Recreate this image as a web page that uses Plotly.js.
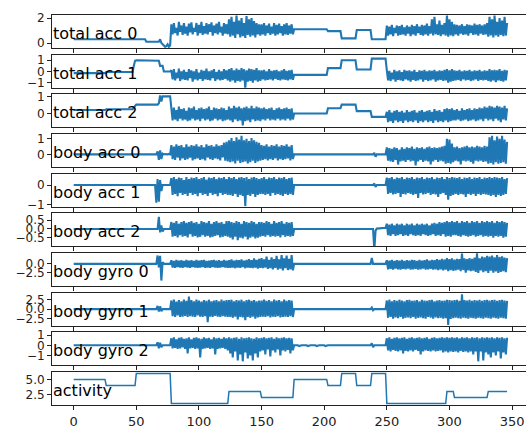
<!DOCTYPE html>
<html>
<head>
<meta charset="utf-8">
<script src="https://cdn.plot.ly/plotly-3.0.1.min.js"></script>
<style>
html,body{margin:0;padding:0;background:#fff;overflow:hidden;}
#chart{width:529px;height:430px;}
</style>
</head>
<body>
<div id="chart"></div>
<script>
// ---------------- DATA ----------------
const panelNames = ['total acc 0','total acc 1','total acc 2','body acc 0','body acc 1','body acc 2','body gyro 0','body gyro 1','body gyro 2','activity'];
const xTicks = [0,50,100,150,200,250,300,350];

const totalAcc0 = [
0.3,0.3,0.3,0.3,0.3,0.3,0.3,0.3,0.3,0.3, 0.3,0.3,0.3,0.3,0.3,0.3,0.3,0.3,0.3,0.3, 0.3,0.3,0.3,0.3,0.3,0.3,
0.3,0.3,0.3,0.3,0.3,0.3,0.3,0.3,0.3,0.3, 0.3,0.3,0.3,0.3,0.3,0.3,0.3,0.3,0.3,0.3, 0.3,0.3,0.3,0.3,
0.3,0.3,0.3,0.3,0.3,0.3,0.3,0.3, 0.1,0.1,0.1,0.1,0.1,0.1,0.1,0.1,0.1,0.1,0.1, 0.3,0.0,-0.1,-0.2,-0.3,-0.25,-0.1,-0.3,-0.2,
1.5,0.7,1.6,0.8,1.2,0.6,1.7,0.9,1.4,0.65, 1.6,0.75,1.3,0.6,1.55,0.85,1.65,0.7,1.2,0.9, 1.6,0.6,1.45,0.8,1.7,0.65,1.35,0.75,1.6,0.7, 1.5,0.9,1.65,0.6,1.4,0.8,1.55,0.7,1.7,0.85, 1.3,0.6,1.6,0.75,1.5,0.7,
1.9,0.5,2.1,0.6,1.7,0.4,2.2,0.7,1.8,0.45, 2.0,0.55,1.6,0.4,2.15,0.65,1.9,0.5,2.0,0.6, 1.75,0.45,1.6,0.7,1.5,0.6,
1.5,0.7,1.6,0.6,1.4,0.8,1.55,0.65,1.3,0.75, 1.6,0.6,1.45,0.7,1.55,0.8,1.35,0.6,1.5,0.7, 1.6,0.65,1.4,0.75,1.5,0.7,
1.1,1.1,1.1,1.1,1.1,1.1,1.1,1.1,1.1,1.1, 1.1,1.1,1.1,1.1,1.1,1.1,1.1,1.1,1.1,1.1, 1.1,1.1,1.1,1.1,1.1,1.1,1.1,
0.95,0.95,0.95,0.95,0.95,0.95,0.95,0.95,0.95,0.95,0.95,
0.37,0.37,0.37,0.37,0.37,0.37,0.37,0.37,0.37,0.37,0.37,0.37,
1.04,1.04,1.04,1.04,1.04,1.04,1.04,1.04,1.04,1.04,1.04,1.04,
0.3,0.3,0.3,0.3,0.3,0.3,0.3,0.3,0.3,0.3,0.3,0.3,
1.4,0.6,1.3,0.7,1.45,0.55,1.2,0.8,1.4,0.6, 1.35,0.65,1.45,0.7,1.25,0.6,1.4,0.75,1.3,0.55, 1.45,0.7,1.35,0.6,1.5,0.8,1.3,0.65,1.45,0.6, 1.4,0.7,1.55,0.6,1.35,0.75,1.9,0.6,2.1,0.7, 1.5,0.65,1.8,0.55,1.45,0.7,1.6,0.6,
2.2,0.5,1.9,0.6,1.7,0.55,
1.5,0.7,1.45,0.6,1.4,0.75,1.5,0.65,1.35,0.7, 1.5,0.6,1.45,0.8,1.4,0.65,1.55,0.7,1.45,0.6, 1.5,0.75,1.4,0.65,1.5,0.7,1.6,
0.5,2.1,0.6,1.9,0.45,2.2,0.6,1.7,0.5,2.0, 0.65,1.8,0.55,2.1,0.6,1.6
];

const totalAcc1 = [
-0.15,-0.15,-0.15,-0.15,-0.15,-0.15,-0.15,-0.15,-0.15,-0.15, -0.15,-0.15,-0.15,-0.15,-0.15,-0.15,-0.15,-0.15,-0.15,-0.15, -0.15,-0.15,-0.15,-0.15,-0.15,-0.15,
-0.05,-0.05,-0.05,-0.05,-0.05,-0.05,-0.05,-0.05,-0.05,-0.05, -0.05,-0.05,-0.05,-0.05,-0.05,-0.05,-0.05,-0.05,-0.05,-0.05, -0.05,-0.05,0.5,0.95,
1.0,1.0,1.0,1.0,1.0,1.0,1.0,1.0,1.0,1.0, 1.0,1.0,1.0,1.0,1.0,1.0,1.0,1.0, 0.95,0.5,0.5,0.5, 0.0,0.0,0.0,0.0,0.0,0.0,
0.1,-0.7,0.2,-0.8,-0.1,-0.6,0.25,-0.85,0.0,-0.7, 0.15,-0.75,-0.05,-0.8,0.2,-0.6,0.1,-0.9,0.0,-0.7, 0.2,-0.8,-0.1,-0.65,0.15,-0.85,0.05,-0.7,0.25,-0.75, 0.0,-0.8,0.1,-0.6,0.2,-0.85,-0.05,-0.7,0.15,-0.8, 0.0,-0.75,0.2,-0.65,0.1,-0.8,
0.2,-0.9,0.3,-0.8,0.1,-1.0,0.25,-0.85,0.15,-0.9, 0.3,-0.8,0.2,-1.5,0.1,-0.9,0.25,-0.85,0.2,-1.0, 0.15,-0.8,0.3,-0.9,0.1,-0.85,
0.1,-0.7,0.15,-0.8,0.0,-0.75,0.2,-0.7,0.05,-0.8, 0.1,-0.65,0.15,-0.75,0.0,-0.8,0.1,-0.7,0.2,-0.75, 0.05,-0.8,0.1,-0.7,0.15,-0.75,
-0.3,-0.3,-0.3,-0.3,-0.3,-0.3,-0.3,-0.3,-0.3,-0.3, -0.3,-0.3,-0.3,-0.3,-0.3,-0.3,-0.3,-0.3,-0.3,-0.3, -0.3,-0.3,-0.3,-0.3,-0.3,-0.3,-0.3,
0.3,0.3,0.3,0.3,0.3,0.3,0.3,0.3,0.3,0.3,0.3,
1.0,1.0,1.0,1.0,1.0,1.0,1.0,1.0,1.0,1.0,1.0,1.0,
0.17,0.17,0.17,0.17,0.17,0.17,0.17,0.17,0.17,0.17,0.17,0.17,
1.15,1.15,1.15,1.15,1.15,1.15,1.15,1.15,1.15,1.15,1.15,1.15,
0.1,-0.8,0.05,-0.85,-0.1,-0.7,0.15,-0.9,0.0,-0.75, 0.1,-0.8,-0.05,-0.85,0.15,-0.7,0.05,-0.8,0.1,-0.9, 0.0,-0.75,0.15,-0.85,-0.05,-0.8,0.1,-0.7,0.05,-0.9, 0.15,-0.75,0.0,-0.85,0.1,-0.8,0.05,-0.7,0.15,-0.9, 0.0,-0.8,0.1,-0.75,0.05,-0.85,0.15,-0.8,
0.2,-1.0,0.1,-0.9,0.2,-0.85,
0.1,-0.8,0.05,-0.75,0.15,-0.85,0.0,-0.7,0.1,-0.8, 0.05,-0.75,0.15,-0.85,0.0,-0.8,0.1,-0.7,0.05,-0.85, 0.15,-0.75,0.0,-0.8,0.1,-0.75,0.05,
-0.85,0.2,-0.9,0.1,-0.8,0.15,-0.95,0.1,-0.8,0.2, -0.85,0.05,-0.9,0.15,-0.8,0.1
];

const totalAcc2 = [
0.2,0.2,0.2,0.2,0.2,0.2,0.2,0.2,0.2,0.2, 0.2,0.2,0.2,0.2,0.2,0.2,0.2,0.2,0.2,0.2, 0.2,0.2,0.2,0.2,0.2,0.2,
0.25,0.25,0.25,0.25,0.25,0.25,0.25,0.25,0.25,0.25, 0.25,0.25,0.25,0.25,0.25,0.25,0.25,0.25,0.25,0.25, 0.25,0.25,0.35,0.45,
0.52,0.52,0.52,0.52,0.52,0.52,0.52,0.52,0.52,0.52, 0.52,0.52,0.52,0.52,0.52,0.52,0.52,0.52, 0.6,1.05,0.7, 1.0,1.0,1.0,1.0,1.0,1.0,1.0,
0.3,-0.4,0.35,-0.35,0.2,-0.45,0.4,-0.3,0.25,-0.4, 0.3,-0.35,0.15,-0.45,0.35,-0.4,0.3,-0.3,0.4,-0.4, 0.2,-0.35,0.3,-0.45,0.35,-0.3,0.25,-0.4,0.3,-0.35, 0.4,-0.45,0.2,-0.4,0.35,-0.3,0.3,-0.4,0.25,-0.35, 0.35,-0.45,0.3,-0.4,0.2,-0.35,
0.4,-0.4,0.3,-0.5,0.45,-0.35,0.35,-0.45,0.4,-0.4, 0.3,-0.7,0.35,-0.45,0.4,-0.4,0.3,-0.5,0.45,-0.35, 0.3,-0.45,0.4,-0.4,0.35,-0.45,
0.3,-0.35,0.35,-0.4,0.25,-0.3,0.3,-0.4,0.35,-0.35, 0.2,-0.4,0.3,-0.3,0.35,-0.4,0.25,-0.35,0.3,-0.4, 0.35,-0.3,0.25,-0.4,0.3,-0.35,
0,0,0,0,0,0,0,0,0,0, 0,0,0,0,0,0,0,0,0,0, 0,0,0,0,0,0,0,
0.31,0.31,0.31,0.31,0.31,0.31,0.31,0.31,0.31,0.31,0.31,
0.52,0.52,0.52,0.52,0.52,0.52,0.52,0.52,0.52,0.52,0.52,0.52,
0.14,0.14,0.14,0.14,0.14,0.14,0.14,0.14,0.14,0.14,0.14,0.14,
-0.2,-0.2,-0.2,-0.2,-0.2,-0.2,-0.2,-0.2,-0.2,-0.2,-0.2,-0.2,
0.1,-0.5,0.2,-0.45,0.05,-0.55,0.15,-0.4,0.2,-0.5, 0.1,-0.45,0.15,-0.55,0.05,-0.4,0.2,-0.5,0.1,-0.45, 0.15,-0.5,0.2,-0.4,0.05,-0.55,0.15,-0.45,0.2,-0.5, 0.1,-0.4,0.15,-0.5,0.2,-0.45,0.1,-0.55,0.25,-0.4, 0.15,-0.5,0.2,-0.45,0.1,-0.5,0.25,-0.4,
0.3,-0.5,0.25,-0.45,0.3,-0.4,
0.2,-0.4,0.25,-0.35,0.15,-0.45,0.3,-0.4,0.2,-0.35, 0.25,-0.45,0.3,-0.4,0.2,-0.35,0.3,-0.45,0.25,-0.4, 0.35,-0.35,0.3,-0.45,0.4,-0.3,0.35,
-0.4,0.45,-0.35,0.4,-0.45,0.35,-0.3,0.45,-0.4,0.4, -0.5,0.35,-0.35,0.45,-0.4,0.3
];

const bodyAcc0 = [
0,0,0,0,0,0,0,0,0,0, 0,0,0,0,0,0,0,0,0,0, 0,0,0,0,0,0,
0,0,0,0,0,0,0,0,0,0, 0,0,0,0,0,0,0,0,0,0, 0,0,0,0,
0,0,0,0,0,0,0,0,0,0, 0,0,0,0,0,0,0, 0.2,-0.35,0.25,-0.3, 0.05,0,0.02,0,0,0.03,0,
0.6,-0.3,0.5,-0.35,0.65,-0.2,0.55,-0.38,0.6,-0.25, 0.45,-0.35,0.65,-0.3,0.5,-0.2,0.6,-0.38,0.55,-0.3, 0.65,-0.25,0.5,-0.35,0.6,-0.3,0.45,-0.38,0.65,-0.2, 0.55,-0.3,0.6,-0.35,0.5,-0.25,0.65,-0.3,0.55,-0.38, 0.6,-0.2,0.75,-0.4,0.8,-0.45,
0.9,-0.5,1.05,-0.45,0.85,-0.58,1.1,-0.4,0.95,-0.55, 1.2,-0.5,0.9,-0.45,1.0,-0.58,0.85,-0.5,1.05,-0.4, 0.9,-0.55,0.8,-0.45,0.75,-0.4,
0.6,-0.35,0.55,-0.3,0.65,-0.38,0.5,-0.3,0.6,-0.35, 0.55,-0.25,0.65,-0.38,0.5,-0.3,0.6,-0.35,0.55,-0.3, 0.65,-0.25,0.5,-0.38,0.6,-0.3,
0,0,0,0,0,0,0,0,0,0, 0,0,0,0,0,0,0,0,0,0, 0,0,0,0,0,0,0,
0,0,0,0,0,0,0,0,0,0,0,
0,0,0,0,0,0,0,0,0,0,0,0,
0,0,0,0,0,0,0,0,0,0,0,0,
0,0,0.1,-0.15,0,0,0,0,0,0,0,0,
0.45,-0.4,0.4,-0.45,0.35,-0.48,0.45,-0.35,0.4,-0.65, 0.3,-0.45,0.45,-0.4,0.35,-0.48,0.45,-0.35,0.4,-0.45, 0.5,-0.4,0.35,-0.7,0.45,-0.45,0.4,-0.35,0.45,-0.48, 0.35,-0.4,0.45,-0.45,0.5,-0.65,0.4,-0.45,0.45,-0.35, 0.4,-0.48,0.45,-0.4,0.5,-0.45,0.55,-0.6,
1.0,-0.55,0.95,-0.6,0.7,-0.5,
0.45,-0.4,0.5,-0.45,0.4,-0.65,0.45,-0.4,0.5,-0.45, 0.55,-0.4,0.45,-0.48,0.5,-0.6,0.45,-0.4,0.55,-0.45, 0.5,-0.4,0.45,-0.48,0.55,-0.45,0.5,
-0.6,1.1,-0.55,1.2,-0.65,0.9,-0.5,1.15,-0.6,1.0, -0.55,1.2,-0.5,0.95,-0.6,0.8
];

const bodyAcc1 = [
0,0,0,0,0,0,0,0,0,0, 0,0,0,0,0,0,0,0,0,0, 0,0,0,0,0,0,
0,0,0,0,0,0,0,0,0,0, 0,0,0,0,0,0,0,0,0,0, 0,0,0,0,
0,0,0,0,0,0,0,0,0,0, 0,0,0,0,0,0, -0.9,0.3,-0.85,0.25,-0.3, 0,0,0,0,0,0,0,
0.35,-0.5,0.4,-0.45,0.3,-0.56,0.38,-0.4,0.35,-0.5, 0.25,-0.45,0.4,-0.55,0.3,-0.4,0.38,-0.5,0.35,-0.45, 0.4,-0.56,0.3,-0.4,0.35,-0.5,0.4,-0.45,0.28,-0.55, 0.38,-0.4,0.35,-0.5,0.4,-0.45,0.3,-0.56,0.38,-0.4, 0.35,-0.5,0.4,-0.45,0.3,-0.5,
0.4,-0.5,0.35,-0.55,0.4,-0.45,0.3,-0.6,0.38,-0.5, 0.4,-0.55,0.35,-1.08,0.4,-0.5,0.3,-0.55,0.38,-0.45, 0.4,-0.6,0.35,-0.5,0.3,-0.45,
0.35,-0.45,0.4,-0.5,0.3,-0.45,0.38,-0.55,0.35,-0.4, 0.4,-0.5,0.3,-0.45,0.38,-0.5,0.35,-0.55,0.4,-0.45, 0.3,-0.5,0.35,-0.45,0.38,-0.5,
0,0,0,0,0,0,0,0,0,0, 0,0,0,0,0,0,0,0,0,0, 0,0,0,0,0,0,0,
0,0,0,0,0,0,0,0,0,0,0,
0,0,0,0,0,0,0,0,0,0,0,0,
0,0,0,0,0,0,0,0,0,0,0,0,
0,0,0.08,-0.1,0,0,0,0,0,0,0,0,
0.38,-0.45,0.35,-0.4,0.4,-0.47,0.3,-0.45,0.38,-0.4, 0.35,-0.6,0.4,-0.45,0.3,-0.47,0.38,-0.4,0.35,-0.45, 0.4,-0.5,0.3,-0.45,0.38,-0.65,0.35,-0.4,0.4,-0.47, 0.3,-0.45,0.38,-0.4,0.35,-0.5,0.4,-0.45,0.3,-0.47, 0.38,-0.6,0.35,-0.45,0.4,-0.4,0.3,-0.5,
0.4,-0.74,0.35,-0.55,0.4,-0.5,
0.38,-0.45,0.35,-0.5,0.4,-0.45,0.3,-0.47,0.38,-0.6, 0.35,-0.45,0.4,-0.5,0.3,-0.45,0.38,-0.55,0.35,-0.45, 0.4,-0.5,0.3,-0.45,0.38,-0.47,0.35,
-0.5,0.4,-0.55,0.35,-0.5,0.4,-0.6,0.38,-0.5,0.35, -0.55,0.4,-0.5,0.3,-0.45,0.35
];

const bodyAcc2 = [
0,0,0,0,0,0,0,0,0,0, 0,0,0,0,0,0,0,0,0,0, 0,0,0,0,0,0,
0,0,0,0,0,0,0,0,0,0, 0,0,0,0,0,0,0,0,0,0, 0,0,0,0,
0,0,0,0,0,0,0,0,0,0, 0,0,0,0,0,0,0,0, 0.7,-0.2,0.2,-0.15, 0,0,0,0,0,0,
0.4,-0.45,0.35,-0.4,0.45,-0.48,0.3,-0.35,0.4,-0.45, 0.45,-0.4,0.35,-0.48,0.4,-0.3,0.45,-0.45,0.35,-0.4, 0.4,-0.48,0.3,-0.45,0.45,-0.35,0.4,-0.45,0.35,-0.4, 0.45,-0.48,0.3,-0.45,0.4,-0.4,0.45,-0.35,0.35,-0.48, 0.4,-0.45,0.3,-0.4,0.45,-0.45,
0.45,-0.5,0.4,-0.6,0.35,-0.45,0.45,-0.65,0.4,-0.5, 0.3,-0.55,0.45,-0.45,0.4,-0.6,0.35,-0.5,0.45,-0.45, 0.4,-0.55,0.3,-0.5,0.4,-0.45,
0.4,-0.4,0.35,-0.45,0.45,-0.35,0.4,-0.45,0.3,-0.4, 0.45,-0.45,0.35,-0.4,0.4,-0.48,0.45,-0.35,0.3,-0.45, 0.4,-0.4,0.35,-0.45,0.4,-0.4,
0,0,0,0,0,0,0,0,0,0, 0,0,0,0,0,0,0,0,0,0, 0,0,0,0,0,0,0,
0,0,0,0,0,0,0,0,0,0,0,
0,0,0,0,0,0,0,0,0,0,0,0,
0,0,0,0,0,0,0,0,0,0,0,0,
0,0,-1.2,-0.1,0.02,0.03,0.04,0.05,0.05,0.06,0.06,0.07,
0.3,-0.35,0.25,-0.4,0.3,-0.3,0.2,-0.4,0.3,-0.35, 0.25,-0.3,0.3,-0.4,0.2,-0.35,0.3,-0.4,0.25,-0.3, 0.3,-0.35,0.2,-0.4,0.3,-0.35,0.25,-0.4,0.3,-0.3, 0.25,-0.35,0.3,-0.4,0.2,-0.35,0.3,-0.3,0.35,-0.4, 0.3,-0.35,0.4,-0.4,0.35,-0.3,0.4,-0.45,
0.45,-0.4,0.4,-0.45,0.45,-0.35,
0.4,-0.35,0.45,-0.4,0.35,-0.45,0.45,-0.35,0.4,-0.4, 0.45,-0.45,0.35,-0.4,0.45,-0.35,0.4,-0.45,0.45,-0.4, 0.35,-0.35,0.45,-0.45,0.4,-0.4,0.45,
-0.45,0.4,-0.4,0.45,-0.5,0.35,-0.4,0.45,-0.45,0.4, -0.4,0.45,-0.5,0.4,-0.45,0.35
];

const bodyGyro0 = [
0,0,0,0,0,0,0,0,0,0, 0,0,0,0,0,0,0,0,0,0, 0,0,0,0,0,0,
0,0,0,0,0,0,0,0,0,0, 0,0,0,0,0,0,0,0,0,0, 0,0,0,0,
0,0,0,0,0,0,0,0,0,0, 0,0,0,0,0,0,0, 2.3,-1.0,2.2,-4.6,0.5, 0,0,0,0,0,0,
1.0,-1.0,0.8,-1.1,1.1,-0.9,0.9,-1.0,1.0,-1.1, 0.8,-0.9,1.1,-1.0,0.9,-1.1,1.0,-0.9,0.8,-1.0, 1.1,-1.1,0.9,-1.0,1.0,-0.9,1.1,-1.1,0.8,-1.0, 0.9,-1.1,1.0,-0.9,1.1,-1.0,0.9,-1.1,1.0,-1.0, 0.8,-0.9,1.1,-1.0,0.9,-1.1,
1.0,-1.1,1.2,-1.0,0.9,-1.2,1.1,-1.0,1.0,-1.1, 1.2,-0.9,0.9,-1.2,1.1,-1.0,1.3,-1.1,1.0,-1.2, 1.5,-1.0,1.1,-1.3,1.4,-1.1,
1.6,-1.2,1.2,-1.0,2.0,-1.4,1.1,-1.2,1.8,-1.5, 1.3,-1.1,2.2,-1.6,1.2,-1.3,2.4,-1.8,1.5,-1.2, 2.3,-1.7,1.4,-1.5,2.4,-1.8,
0,0,0,0,0,0,0,0,0,0, 0,0,0,0,0,0,0,0,0,0, 0,0,0,0,0,0,0,
0,0,0,0,0,0,0,0,0,0,0,
0,0,0,0,0,0,0,0,0,0,0,0,
0,0,0,0,0,0,0,0,0,0,0,0,
1.6,0,0,0,0,0,0,0,0,0,0,0,
1.0,-1.5,0.9,-1.4,1.1,-1.6,0.8,-1.3,1.0,-1.5, 0.9,-1.6,1.1,-1.4,0.8,-1.5,1.0,-1.3,0.9,-1.6, 1.1,-1.5,1.0,-1.4,0.8,-1.6,1.1,-1.5,0.9,-1.3, 1.0,-1.6,1.2,-1.5,0.9,-1.4,1.1,-1.6,1.0,-1.5, 1.3,-1.7,1.1,-1.5,1.4,-1.8,1.2,-1.6,
1.6,-2.0,1.3,-1.7,1.5,-1.9,
1.2,-1.8,1.4,-1.6,1.3,-2.0,2.8,-1.7,1.5,-2.4, 1.3,-1.8,1.6,-2.0,1.4,-1.9,1.7,-2.2,2.9,-2.5, 1.5,-1.8,2.0,-2.3,1.8,-2.0,2.2,
-2.5,2.0,-1.9,2.3,-2.4,1.8,-2.1,2.4,-2.5,1.9, -2.2,2.1,-2.0,1.7,-2.3,1.6
];

const bodyGyro1 = [
0,0,0,0,0,0,0,0,0,0, 0,0,0,0,0,0,0,0,0,0, 0,0,0,0,0,0,
0,0,0,0,0,0,0,0,0,0, 0,0,0,0,0,0,0,0,0,0, 0,0,0,0,
0,0,0,0,0,0,0,0,0,0, 0,0,0,0,0,0,0, 0.8,-0.6,0.7,-0.5, 0,0,0,0,0,0,0,
2.2,-1.8,2.4,-2.0,1.9,-1.6,2.3,-2.0,2.0,-1.9, 2.4,-1.7,2.1,-2.0,3.2,-1.8,2.3,-1.9,2.0,-2.0, 2.4,-1.6,2.2,-1.9,1.9,-2.0,2.3,-1.8,2.1,-3.3, 2.4,-1.9,2.0,-2.0,2.2,-1.7,2.3,-1.9,2.0,-2.0, 2.4,-1.8,2.1,-1.9,2.3,-2.0,
2.3,-2.0,2.4,-2.2,2.0,-1.9,2.3,-2.6,2.2,-2.0, 2.4,-2.1,2.0,-2.8,2.3,-2.0,2.4,-2.2,2.1,-1.9, 2.3,-2.4,2.0,-2.1,2.2,-2.0,
2.2,-1.9,2.4,-2.0,2.1,-1.8,2.3,-2.1,2.0,-1.9, 2.4,-2.0,2.2,-1.8,2.3,-2.1,2.0,-2.0,2.4,-1.9, 2.1,-2.0,2.3,-1.8,2.2,-2.0,
0,0,0,0,0,0,0,0,0,0, 0,0,0,0,0,0,0,0,0,0, 0,0,0,0,0,0,0,
0,0,0,0,0,0,0,0,0,0,0,
0,0,0,0,0,0,0,0,0,0,0,0,
0,0,0,0,0,0,0,0,0,0,0,0,
0.4,-0.3,0,0,0,0,0,0,0,0,0,0,
2.2,-2.2,2.4,-2.0,2.0,-2.4,2.3,-2.1,2.1,-2.3, 2.4,-2.0,2.2,-2.4,2.0,-2.2,2.3,-2.1,2.4,-2.3, 2.1,-2.0,2.2,-2.4,2.3,-2.2,2.0,-2.1,2.4,-2.3, 2.2,-2.4,2.1,-2.0,2.3,-2.2,2.4,-2.4,2.0,-2.1, 2.2,-2.3,2.3,-2.2,2.1,-2.4,2.2,-2.3,
2.4,-4.0,2.3,-2.5,2.2,-2.3,
2.3,-2.2,2.4,-2.3,2.1,-2.4,3.8,-2.2,2.3,-2.3, 2.2,-2.4,2.4,-2.2,2.1,-2.3,2.3,-2.4,2.2,-2.2, 2.4,-2.3,2.1,-2.4,2.3,-2.2,2.4,
-2.3,2.2,-2.4,2.3,-2.2,2.4,-2.3,2.1,-2.4,2.3, -2.2,2.4,-2.3,2.2,-2.4,2.1
];

const bodyGyro2 = [
0,0,0,0,0,0,0,0,0,0, 0,0,0,0,0,0,0,0,0,0, 0,0,0,0,0,0,
0,0,0,0,0,0,0,0,0,0, 0,0,0,0,0,0,0,0,0,0, 0,0,0,0,
0,0,0,0,0,0,0,0,0,0, 0,0,0,0,0,0,0, 0.3,-0.3,0.25,-0.2, 0,0,0,0,0,0,0,
0.7,-0.3,0.8,-0.25,0.6,-0.35,0.75,-0.3,0.8,-0.2, 0.65,-0.35,0.7,-0.8,0.8,-0.3,0.6,-0.25,0.75,-0.35, 0.8,-0.3,0.7,-1.2,0.65,-0.35,0.8,-0.3,0.7,-0.25, 0.75,-0.35,0.6,-0.3,0.8,-0.9,0.7,-0.35,0.75,-0.3, 0.65,-0.25,0.8,-0.35,0.7,-0.5,
0.8,-0.8,0.7,-1.2,0.75,-0.6,0.8,-1.5,0.65,-0.9, 0.8,-1.6,0.7,-0.7,0.75,-1.3,0.8,-1.0,0.7,-1.5, 0.65,-0.8,0.8,-1.2,0.7,-0.6,
0.75,-0.5,0.8,-0.9,0.7,-0.4,0.75,-1.1,0.8,-0.5, 0.65,-0.7,0.8,-0.4,0.7,-1.0,0.75,-0.5,0.8,-0.6, 0.7,-0.45,0.75,-0.8,0.7,-0.5,
0,0,0,0,-0.08,0,0,0,0,0, 0,-0.08,0,0,0,0,0,0,-0.08,0, 0,0,0,0,0,-0.08,0,
0,0,0,0,0,0,0,0,0,0,0,
0,0,0,0,0,0,0,0,0,0,0,0,
0,0,0,0,0,0,0,0,0,0,0,0,
0.2,-0.2,0,0,0,0,0,0,0,0,0,0,
0.7,-0.5,0.8,-0.6,0.65,-0.45,0.75,-0.55,0.8,-0.6, 0.7,-0.5,0.75,-0.8,0.8,-0.55,0.65,-0.6,0.75,-0.5, 0.8,-0.6,0.7,-0.45,0.75,-0.55,0.8,-0.9,0.7,-0.6, 0.75,-0.5,0.8,-0.55,0.65,-0.6,0.75,-0.5,0.8,-0.6, 0.7,-0.55,0.75,-0.5,0.8,-0.7,0.75,-0.6,
0.8,-0.7,0.75,-0.6,0.8,-0.65,
0.75,-0.6,0.8,-0.7,0.7,-0.55,0.8,-0.65,0.75,-0.6, 0.8,-0.7,0.7,-0.6,0.8,-0.9,0.75,-0.6,0.8,-1.6, 0.7,-0.6,0.8,-1.5,0.75,-0.7,0.8,
-0.9,0.75,-1.2,0.8,-0.7,0.7,-1.0,0.8,-0.6,0.75, -1.3,0.8,-0.7,0.7,-0.9,0.75
];

const activity = [
5,5,5,5,5,5,5,5,5,5, 5,5,5,5,5,5,5,5,5,5, 5,5,5,5,5,5,
4,4,4,4,4,4,4,4,4,4, 4,4,4,4,4,4,4,4,4,4, 4,4,4,4,
6,6,6,6,6,6,6,6,6,6, 6,6,6,6,6,6,6,6,6,6, 6,6,6,6,6,6,6,6,
1,1,1,1,1,1,1,1,1,1, 1,1,1,1,1,1,1,1,1,1, 1,1,1,1,1,1,1,1,1,1, 1,1,1,1,1,1,1,1,1,1, 1,1,1,1,1,1,
3,3,3,3,3,3,3,3,3,3, 3,3,3,3,3,3,3,3,3,3, 3,3,3,3,3,3,
2,2,2,2,2,2,2,2,2,2, 2,2,2,2,2,2,2,2,2,2, 2,2,2,2,2,2,
5,5,5,5,5,5,5,5,5,5, 5,5,5,5,5,5,5,5,5,5, 5,5,5,5,5,5,5,
4,4,4,4,4,4,4,4,4,4,4,
6,6,6,6,6,6,6,6,6,6,6,6,
4,4,4,4,4,4,4,4,4,4,4,4,
6,6,6,6,6,6,6,6,6,6,6,6,
1,1,1,1,1,1,1,1,1,1, 1,1,1,1,1,1,1,1,1,1, 1,1,1,1,1,1,1,1,1,1, 1,1,1,1,1,1,1,1,1,1, 1,1,1,1,1,1,1,1,
3,3,3,3,3,3,
2,2,2,2,2,2,2,2,2,2, 2,2,2,2,2,2,2,2,2,2, 2,2,2,2,2,2,2,
3,3,3,3,3,3,3,3,3,3, 3,3,3,3,3,3
];

// y-axis ticks per panel
const yTickVals = [[0,2],[-1,0,1],[0,1],[0,1],[-1,0],[-0.5,0,0.5],[-2.5,0],[-2.5,0,2.5],[-1,0,1],[2.5,5]];
const yTickText = [['0','2'],['\u22121','0','1'],['0','1'],['0','1'],['\u22121','0'],['\u22120.5','0.0','0.5'],['\u22122.5','0.0'],['\u22122.5','0.0','2.5'],['\u22121','0','1'],['2.5','5.0']];

// ---------------- DRAWING ----------------
const series = [totalAcc0,totalAcc1,totalAcc2,bodyAcc0,bodyAcc1,bodyAcc2,bodyGyro0,bodyGyro1,bodyGyro2,activity];
series.forEach((s,i)=>{ if(s.length!==activity.length) throw new Error('length mismatch '+panelNames[i]+' '+s.length); });
const idx = activity.map((_,i)=>i);

const yRanges = [[-0.4,2.24],[-1.45,1.5],[-0.81,1.12],[-0.81,1.31],[-1.1,0.58],[-1.0,0.9],[-6.1,3.0],[-4.2,4.2],[-2.0,1.3],[0.75,6.25]];

const plotH = 390, panelH = 33.05, pitch = 39.66;
const FONT = 'DejaVu Sans, Liberation Sans, sans-serif';
const INK = '#222';
const BLUE = '#1f77b4';

const traces = [];
const layout = {
  width: 529, height: 430,
  margin: {l: 52, r: 0, t: 15, b: 25, pad: 0},
  paper_bgcolor: '#fff', plot_bgcolor: '#fff',
  showlegend: false,
  font: {family: FONT, color: INK, size: 12},
  annotations: []
};

series.forEach((s,i)=>{
  const n = i+1;
  const xa = n===1 ? 'x' : 'x'+n;
  const ya = n===1 ? 'y' : 'y'+n;
  traces.push({x: idx, y: s, xaxis: xa, yaxis: ya, type: 'scatter', mode: 'lines',
    line: {color: BLUE, width: n===10 ? 1.5 : 2.1}, hoverinfo: 'skip', name: panelNames[i]});
  const top = i*pitch, bot = top+panelH;
  layout[n===1?'xaxis':'xaxis'+n] = {
    anchor: ya, domain: [0,1], range: [-17.3, 363.5],
    tickmode: 'array', tickvals: xTicks, ticktext: xTicks.map(String),
    ticks: 'outside', ticklen: 4, tickwidth: 1, tickcolor: INK,
    showticklabels: n===10, tickfont: {family: FONT, size: 13, color: INK},
    showline: true, mirror: true, linecolor: INK, linewidth: 1,
    showgrid: false, zeroline: false, fixedrange: true,
    matches: n===1 ? undefined : 'x'
  };
  layout[n===1?'yaxis':'yaxis'+n] = {
    anchor: xa, domain: [1-bot/plotH, 1-top/plotH], range: yRanges[i],
    tickmode: 'array', tickvals: yTickVals[i], ticktext: yTickText[i],
    ticks: 'outside', ticklen: 4, tickwidth: 1, tickcolor: INK,
    tickfont: {family: FONT, size: 12, color: INK},
    showline: true, mirror: true, linecolor: INK, linewidth: 1,
    showgrid: false, zeroline: false, fixedrange: true
  };
  layout.annotations.push({
    text: panelNames[i], showarrow: false,
    xref: xa+' domain', yref: ya+' domain', x: 0, y: 0,
    xanchor: 'left', yanchor: 'bottom', xshift: -1, yshift: 3,
    font: {family: FONT, size: 16, color: '#000'}
  });
});

Plotly.newPlot('chart', traces, layout, {displayModeBar: false, staticPlot: true});
</script>
</body>
</html>
